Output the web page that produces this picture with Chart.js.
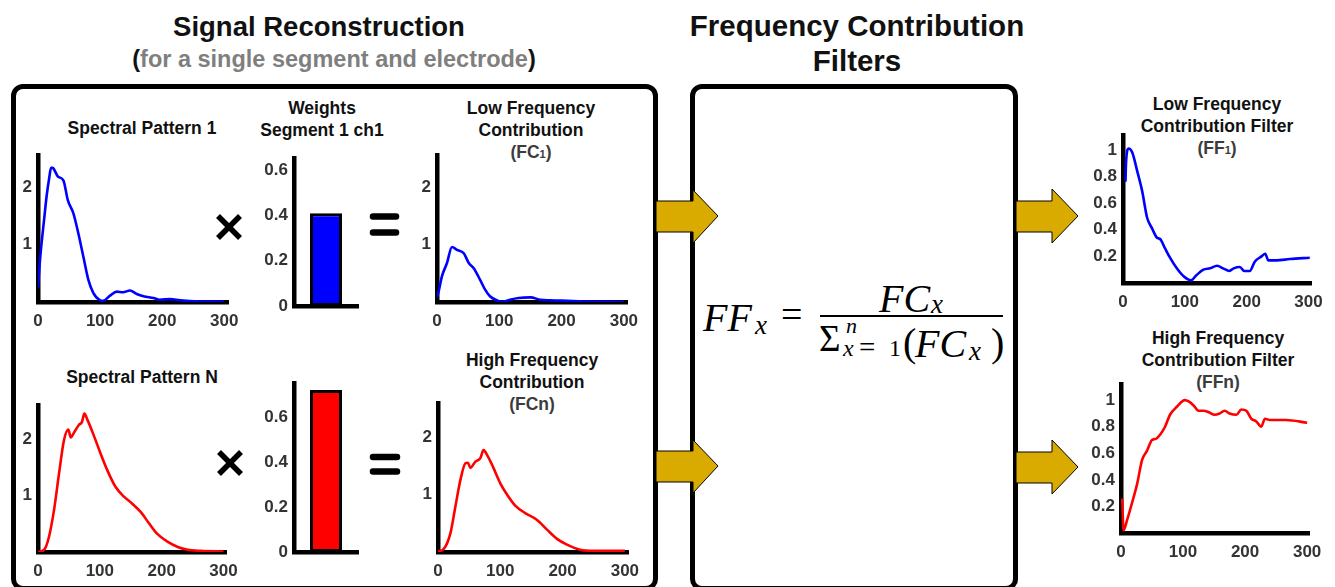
<!DOCTYPE html>
<html>
<head>
<meta charset="utf-8">
<script src="https://cdn.jsdelivr.net/npm/chart.js@4.4.1/dist/chart.umd.min.js"></script>
<style>
  html, body { margin: 0; padding: 0; background: #fff; }
  body { width: 1335px; height: 587px; position: relative; overflow: hidden;
         font-family: "Liberation Sans", Arial, sans-serif; }
  .t { position: absolute; font-weight: bold; text-align: center; white-space: nowrap;
       transform: translateX(-50%); color: #111; }
  .big { font-size: 27.5px; line-height: 35px; }
  .sub { font-size: 17.5px; line-height: 22px; }
  .gray { color: #3c3c3c; }
  .s1 { font-size: 11px; }
  .box { position: absolute; box-sizing: border-box; border: 5px solid #000; border-radius: 12px; }
  canvas { position: absolute; }
  .m { position: absolute; font-family: "Liberation Serif", "Times New Roman", serif;
       font-style: italic; line-height: 1; white-space: nowrap; color: #000; }
  .up { font-style: normal; }
</style>
</head>
<body>

<div class="box" style="left:11px; top:84px; width:647px; height:507px;"></div>
<div class="box" style="left:690px; top:84px; width:328px; height:507px;"></div>

<div class="t big" style="left:319px; top:9px;">Signal Reconstruction</div>
<div class="t" style="left:334px; top:45px; font-size:23.5px; line-height:28px;">(<span style="color:#7f7f7f">for a single segment and electrode</span>)</div>
<div class="t big" style="left:857px; top:8px; font-size:29.5px; line-height:35px;">Frequency Contribution<br>Filters</div>

<div class="t sub" style="left:142px; top:117px;">Spectral Pattern 1</div>
<div class="t sub" style="left:322px; top:97px;">Weights<br>Segment 1 ch1</div>
<div class="t sub" style="left:531px; top:97px;">Low Frequency<br>Contribution<br><span class="gray">(FC<span class="s1">1</span>)</span></div>
<div class="t sub" style="left:142px; top:366px;">Spectral Pattern N</div>
<div class="t sub" style="left:532px; top:349px;">High Frequency<br>Contribution<br><span class="gray">(FCn)</span></div>
<div class="t sub" style="left:1217px; top:93px;">Low Frequency<br>Contribution Filter<br><span class="gray">(FF<span class="s1">1</span>)</span></div>
<div class="t sub" style="left:1218px; top:327px;">High Frequency<br>Contribution Filter<br><span class="gray">(FFn)</span></div>

<canvas id="cSp1"></canvas>
<canvas id="cW1"></canvas>
<canvas id="cFc1"></canvas>
<canvas id="cSpN"></canvas>
<canvas id="cWN"></canvas>
<canvas id="cFcN"></canvas>
<canvas id="cFf1"></canvas>
<canvas id="cFfN"></canvas>

<!-- formula -->
<div class="m" style="left:703px; top:298px; font-size:40px;">FF</div>
<div class="m" style="left:755px; top:312px; font-size:27px;">x</div>
<div class="m up" style="left:781px; top:295px; font-size:38px;">=</div>
<div style="position:absolute; left:820px; top:315px; width:183px; height:2px; background:#000;"></div>
<div class="m" style="left:879px; top:279px; font-size:40px;">FC</div>
<div class="m" style="left:931px; top:291px; font-size:27px;">x</div>
<div class="m up" style="left:819px; top:320px; font-size:37px;">&Sigma;</div>
<div class="m" style="left:846px; top:315px; font-size:22px;">n</div>
<div class="m" style="left:843px; top:336px; font-size:24px;">x</div>
<div class="m up" style="left:859px; top:333px; font-size:29px;">=</div>
<div class="m up" style="left:889px; top:336px; font-size:24px;">1</div>
<div class="m up" style="left:903px; top:323px; font-size:40px;">(</div>
<div class="m" style="left:915px; top:324px; font-size:40px;">FC</div>
<div class="m" style="left:969px; top:338px; font-size:27px;">x</div>
<div class="m up" style="left:991px; top:323px; font-size:40px;">)</div>

<svg width="1335" height="587" style="position:absolute; left:0; top:0;">
  <g fill="#D9AA00" stroke="#000" stroke-width="1">
    <polygon points="656,201 693,201 693,190 718,216 693,243 693,232 656,232"/>
    <polygon points="656,451 693,451 693,440 718,466 693,493 693,482 656,482"/>
    <polygon points="1016,201 1052,201 1052,189 1078,216 1052,243 1052,232 1016,232"/>
    <polygon points="1016,452 1052,452 1052,440 1078,467 1052,494 1052,483 1016,483"/>
  </g>
  <g stroke="#000" stroke-width="5.5">
    <line x1="218" y1="216" x2="240" y2="238"/><line x1="240" y1="216" x2="218" y2="238"/>
    <line x1="219" y1="452" x2="241" y2="474"/><line x1="241" y1="452" x2="219" y2="474"/>
  </g>
  <g stroke="#000" stroke-width="6.5" stroke-linecap="round">
    <line x1="373" y1="216.5" x2="396" y2="216.5"/><line x1="373" y1="232.5" x2="396" y2="232.5"/>
    <line x1="373" y1="457" x2="397" y2="457"/><line x1="373" y1="471.5" x2="397" y2="471.5"/>
  </g>
</svg>

<script>
// spectral pattern 1 (blue) and N (red)
const sp1X = [0, 3, 6, 10, 14, 18, 21, 24, 27, 32, 41, 48, 57, 65, 73, 81, 89, 100, 105, 116, 127, 137, 148, 159, 170, 186, 196, 213, 229, 261, 300];
const sp1Y = [0.25, 0.7, 1.05, 1.45, 1.85, 2.15, 2.33, 2.33, 2.28, 2.18, 2.11, 1.77, 1.54, 1.19, 0.79, 0.39, 0.16, 0.03, 0.02, 0.11, 0.18, 0.17, 0.2, 0.14, 0.1, 0.07, 0.04, 0.05, 0.03, 0.01, 0.005];
const spNX = [0, 10, 18, 26, 34, 42, 49, 53, 58, 66, 71, 75, 80, 90, 101, 112, 125, 139, 152, 166, 180, 193, 210, 226, 242, 263, 300];
const spNY = [0, 0.04, 0.28, 0.75, 1.39, 1.98, 2.17, 2.03, 2.11, 2.25, 2.3, 2.45, 2.34, 2.07, 1.75, 1.45, 1.16, 0.98, 0.86, 0.71, 0.5, 0.32, 0.18, 0.09, 0.04, 0.02, 0.01];

// weights (segment 1, ch1)
const weight1 = [0.41];
const weightN = [0.72];

// frequency contributions
const fc1X = [0, 3, 8, 16, 24, 32, 43, 51, 59, 69, 77, 85, 96, 104, 117, 131, 150, 166, 182, 209, 235, 300];
const fc1Y = [0.08, 0.2, 0.45, 0.68, 0.96, 0.91, 0.85, 0.68, 0.59, 0.39, 0.22, 0.1, 0.03, 0.0, 0.04, 0.07, 0.08, 0.04, 0.03, 0.02, 0.01, 0];
const fcNX = [0, 9, 20, 28, 36, 44, 48, 52, 60, 68, 73, 80, 89, 100, 111, 124, 140, 159, 175, 191, 207, 228, 250, 300];
const fcNY = [0.01, 0.05, 0.33, 0.8, 1.26, 1.55, 1.56, 1.47, 1.58, 1.64, 1.78, 1.67, 1.47, 1.2, 1.0, 0.81, 0.68, 0.56, 0.39, 0.23, 0.13, 0.04, 0.02, 0.02];

// contribution filters
const ff1X = [4, 5, 9, 15, 23, 31, 39, 47, 55, 60, 68, 76, 87, 98, 110, 119, 130, 141, 152, 162, 172, 179, 189, 196, 205, 213, 224, 230, 235, 248, 270, 302];
const ff1Y = [0.76, 0.91, 1.01, 0.98, 0.84, 0.69, 0.49, 0.41, 0.34, 0.33, 0.26, 0.19, 0.11, 0.05, 0.02, 0.06, 0.1, 0.11, 0.13, 0.11, 0.09, 0.11, 0.12, 0.09, 0.09, 0.16, 0.2, 0.22, 0.17, 0.17, 0.18, 0.19];
const ffNX = [2, 4, 10, 18, 26, 34, 42, 50, 57, 63, 71, 79, 90, 103, 109, 117, 125, 133, 141, 151, 159, 167, 175, 186, 194, 202, 210, 218, 226, 232, 240, 266, 300];
const ffNY = [0.26, 0.02, 0.1, 0.23, 0.37, 0.55, 0.62, 0.7, 0.71, 0.74, 0.8, 0.89, 0.95, 1.0, 0.99, 0.96, 0.92, 0.92, 0.91, 0.89, 0.9, 0.92, 0.9, 0.89, 0.93, 0.92, 0.86, 0.84, 0.8, 0.86, 0.85, 0.85, 0.83];

// tick labels
const freqTicks = [0, 100, 200, 300];
const specYTicks = [1, 2];
const weightYTicks = [0, 0.2, 0.4, 0.6];
const filtYTicks = [0.2, 0.4, 0.6, 0.8, 1];

const YW = 50, PT = 16, PR = 26, XH = 40;
const tickFont = { family: '"Liberation Sans", Arial, sans-serif', size: 17, weight: 'bold' };

// put the canvas so that its chart area lands on the given pixel box
function place(id, axX, topY, endX, axY) {
    const c = document.getElementById(id);
    c.width = YW + (endX - axX) + PR;
    c.height = PT + (axY - topY) + XH;
    c.style.left = (axX - YW) + 'px';
    c.style.top = (topY - PT) + 'px';
    return c;
}

function yAxis(max, ticks) {
    return {
        type: 'linear', min: 0, max: max, bounds: 'data',
        afterBuildTicks: s => { s.ticks = ticks.map(v => ({ value: v })); },
        afterFit: s => { s.width = YW; },
        grid: { display: false, drawTicks: false },
        border: { color: '#000', width: 4.5 },
        ticks: { color: '#333', font: tickFont, padding: 6, callback: v => String(v) }
    };
}

function lineChart(id, box, xs, ys, color, xMax, yMax, yTicks) {
    new Chart(place(id, ...box), {
        type: 'line',
        data: {
            datasets: [{
                data: xs.map((x, i) => ({ x: x, y: ys[i] })),
                borderColor: color,
                borderWidth: 2.6,
                pointRadius: 0,
                cubicInterpolationMode: 'monotone',
                fill: false
            }]
        },
        options: {
            responsive: false,
            animation: false,
            layout: { padding: { top: PT, right: PR, left: 0, bottom: 0 } },
            plugins: { legend: { display: false }, tooltip: { enabled: false } },
            scales: {
                x: {
                    type: 'linear', min: 0, max: xMax, bounds: 'data',
                    afterBuildTicks: s => { s.ticks = freqTicks.map(v => ({ value: v })); },
                    afterFit: s => { s.height = XH; },
                    grid: { display: false, drawTicks: false },
                    border: { color: '#000', width: 4.5 },
                    ticks: { color: '#333', font: tickFont, padding: 9, maxRotation: 0 }
                },
                y: yAxis(yMax, yTicks)
            }
        }
    });
}

function barChart(id, box, vals, color, yMax) {
    new Chart(place(id, ...box), {
        type: 'bar',
        data: {
            labels: ['ch1'],
            datasets: [{
                data: vals,
                backgroundColor: color,
                borderColor: '#000',
                borderWidth: 3,
                borderSkipped: false,
                barPercentage: 0.5,
                categoryPercentage: 1
            }]
        },
        options: {
            responsive: false,
            animation: false,
            layout: { padding: { top: PT, right: PR, left: 0, bottom: 0 } },
            plugins: { legend: { display: false }, tooltip: { enabled: false } },
            scales: {
                x: {
                    afterFit: s => { s.height = XH; },
                    grid: { display: false, drawTicks: false },
                    border: { color: '#000', width: 4.5 },
                    ticks: { display: false }
                },
                y: yAxis(yMax, weightYTicks)
            }
        }
    });
}

lineChart('cSp1', [38, 155, 228, 302], sp1X, sp1Y, '#0000ff', 306, 2.55, specYTicks);
barChart('cW1', [294, 158, 358, 306], weight1, '#0000ff', 0.653);
lineChart('cFc1', [437, 155, 627, 302], fc1X, fc1Y, '#0000ff', 305, 2.56, specYTicks);
lineChart('cSpN', [38, 405, 226, 552], spNX, spNY, '#ff0000', 304, 2.6, specYTicks);
barChart('cWN', [294, 383, 358, 552], weightN, '#ff0000', 0.75);
lineChart('cFcN', [438, 403, 628, 552], fcNX, fcNY, '#ff0000', 305, 2.6, specYTicks);
lineChart('cFf1', [1123, 135, 1311, 283], ff1X, ff1Y, '#0000ff', 304, 1.11, filtYTicks);
lineChart('cFfN', [1121, 384, 1309, 533], ffNX, ffNY, '#ff0000', 303, 1.12, filtYTicks);
</script>
</body>
</html>
